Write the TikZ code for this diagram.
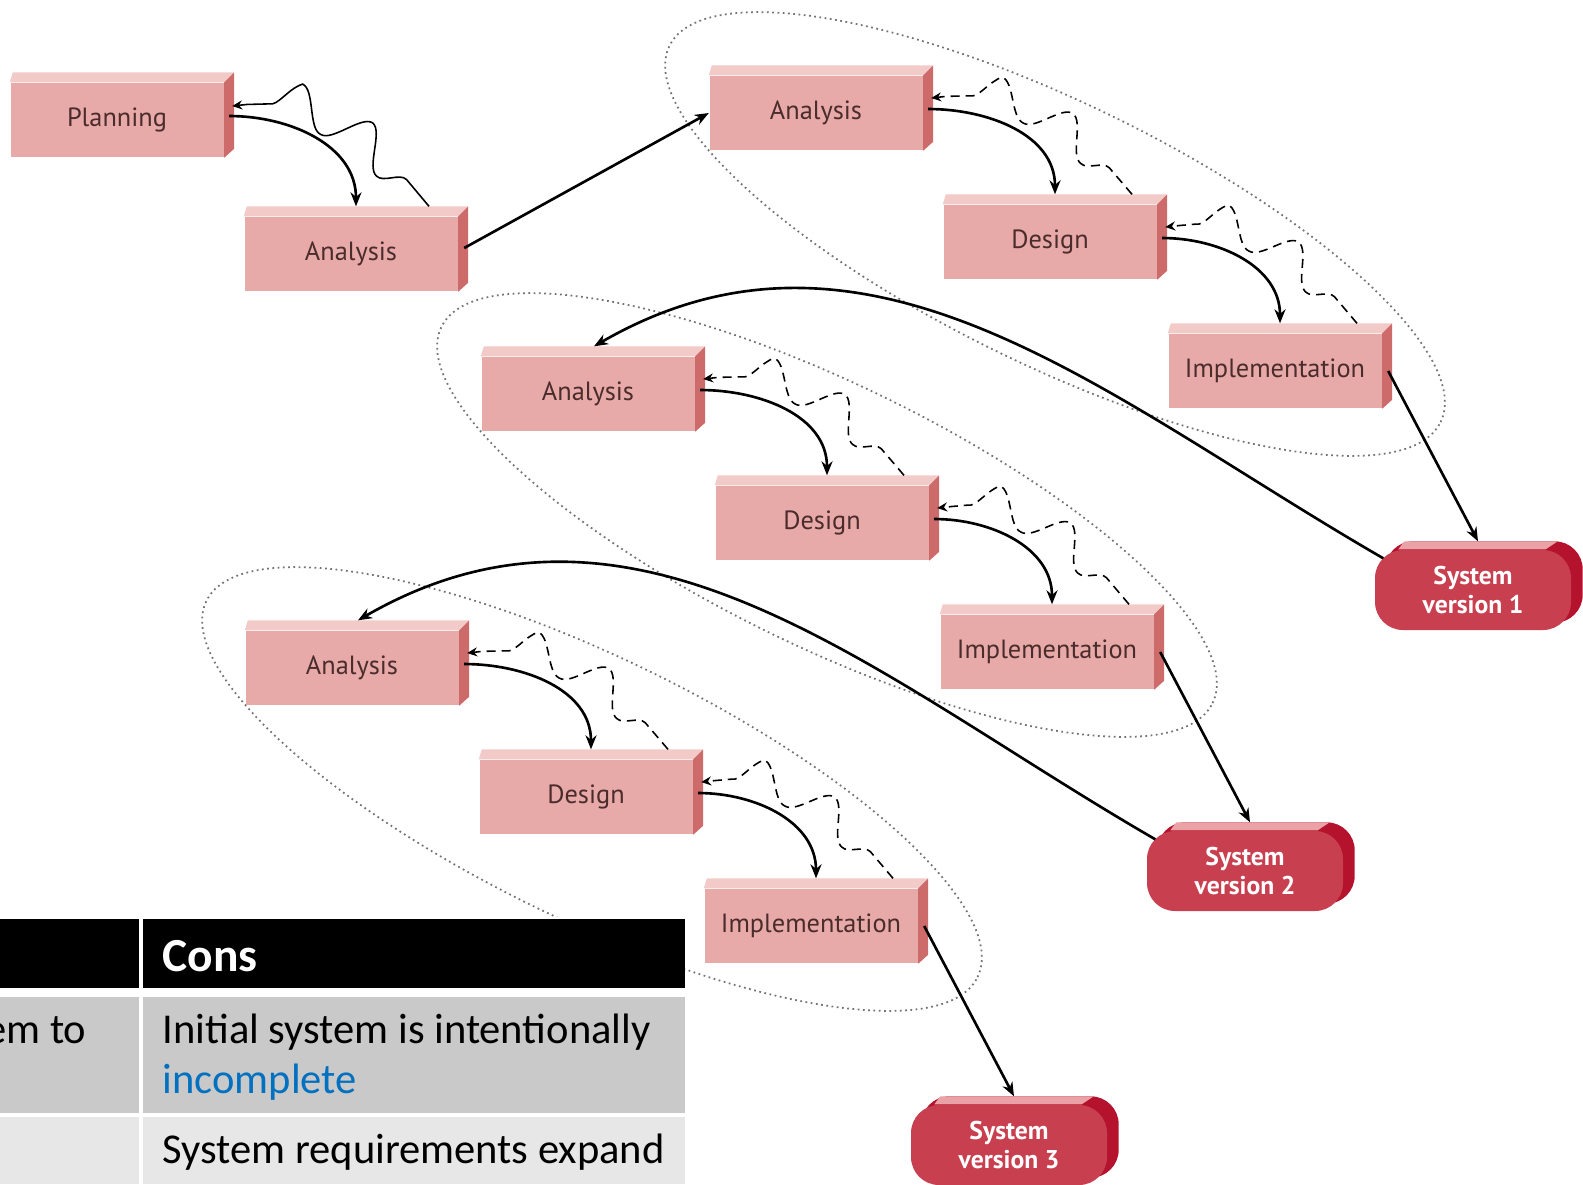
\documentclass[tikz,border=0pt]{standalone}
\usepackage{fontspec}
\usepackage{tikz}
\usetikzlibrary{arrows.meta, decorations.pathmorphing, backgrounds}
\newfontfamily\boxfont{PT Sans}
\newfontfamily\tabfont{Carlito}
\definecolor{mFront}{HTML}{E8AAA8}
\definecolor{mTop}{HTML}{F2CAC8}
\definecolor{mSide}{HTML}{CD6A6A}
\definecolor{mText}{HTML}{4A2C2C}
\definecolor{mSys}{HTML}{C8404F}
\definecolor{mSysTop}{HTML}{EAA2A6}
\definecolor{mSysSide}{HTML}{B5122E}
\definecolor{mRowA}{HTML}{C9C9C9}
\definecolor{mRowB}{HTML}{E7E7E7}
\definecolor{mBlue}{HTML}{0070C0}

\begin{document}
\begin{tikzpicture}[x=0.1mm, y=0.1mm,
    block/.style={fill=mFront, minimum width=21.3mm, minimum height=7.4mm, inner sep=0pt,
      text=mText, font=\boxfont\fontsize{7.5}{9}\selectfont},
    sysbox/.style={fill=mSys, rounded corners=2.8mm, minimum width=19.6mm, minimum height=8mm,
      inner sep=0pt, align=center, text=white, font=\boxfont\bfseries\fontsize{7.3}{8.5}\selectfont},
    flow/.style={line width=0.75pt, -{Stealth[length=1.4mm, width=1.1mm]}},
    loopback/.style={line width=0.45pt, decorate,
      decoration={snake, segment length=7.5mm, amplitude=1.7mm, pre length=3.5mm, post length=1.5mm},
      -{Stealth[length=1mm, width=0.9mm]}},
    grp/.style={densely dotted, line width=0.5pt, black!55},
    cell/.style={anchor=base west, inner sep=0pt, font=\tabfont\fontsize{12.1}{14}\selectfont}]
    \useasboundingbox (0,0) rectangle (1583,-1184);

    % boxes
    \node[block] (plan) at (117,-120) {Planning};
    \node[block] (an0) at (351,-254) {Analysis};
    \foreach \k/\x/\y in {1/816/-113, 2/588/-394, 3/352/-668} {
      \node[block] (a\k) at (\x,\y) {Analysis};
      \node[block] (d\k) at (\x+234,\y-129) {Design};
      \node[block] (i\k) at (\x+459,\y-258) {Implementation};
      \node[sysbox] (sv\k) at (\x+657,\y-477) {System\\version \k};
    }

    \begin{scope}[on background layer]
      \foreach \cx/\cy in {1055/-234, 827/-515, 592/-789}
        \draw[grp, rotate around={-26:(\cx,\cy)}] (\cx,\cy) ellipse [x radius=429, y radius=131];
      \foreach \n in {plan, an0, a1, d1, i1, a2, d2, i2, a3, d3, i3} {
        \fill[mTop] (\n.north west) -- ([shift={(3,10)}]\n.north west)
          -- ([shift={(10,10)}]\n.north east) -- (\n.north east) -- cycle;
        \fill[mSide] (\n.north east) -- ([shift={(10,10)}]\n.north east)
          -- ([shift={(10,9)}]\n.south east) -- (\n.south east) -- cycle;
      }
      \foreach \n in {sv1, sv2, sv3} {
        \fill[mSysSide, rounded corners=2.8mm] ([shift={(11,8)}]\n.south west)
          rectangle ([shift={(11,8)}]\n.north east);
        \fill[mSysTop] ([xshift=2.4mm]\n.north west) -- ([shift={(30,8)}]\n.north west)
          -- ([shift={(-14,8)}]\n.north east) -- ([xshift=-2.6mm]\n.north east) -- cycle;
      }
    \end{scope}

    % arrows
    \draw[flow] ([shift={(5,4)}]plan.east) to[out=0, in=90] ([shift={(5,10)}]an0.north);
    \draw[loopback, decoration={amplitude=1.9mm}]
      ([shift={(78,10)}]an0.north) to[out=125, in=10, looseness=0.8] ([shift={(8,14)}]plan.east);
    \draw[flow] ([shift={(6,6)}]an0.east) -- (a1.west);
    \foreach \k in {1,2,3} {
      \draw[flow] ([shift={(5,4)}]a\k.east) to[out=0, in=90] ([shift={(5,10)}]d\k.north);
      \draw[flow] ([shift={(5,4)}]d\k.east) to[out=0, in=90] ([shift={(5,10)}]i\k.north);
      \draw[loopback, dash pattern=on 0.9mm off 0.6mm]
        ([shift={(82,10)}]d\k.north) to[out=125, in=10, looseness=0.8] ([shift={(8,15)}]a\k.east);
      \draw[loopback, dash pattern=on 0.9mm off 0.6mm]
        ([shift={(82,10)}]i\k.north) to[out=125, in=10, looseness=0.8] ([shift={(8,15)}]d\k.east);
      \draw[flow] ([xshift=0.6mm]i\k.east) -- ([shift={(5,8)}]sv\k.north);
    }
    \draw[flow] ([shift={(9,-9)}]sv1.north west) to[out=150, in=30] ([shift={(6,10)}]a2.north);
    \draw[flow] ([shift={(9,-9)}]sv2.north west) to[out=150, in=30] ([shift={(6,10)}]a3.north);

    % table
    \fill[white] (0,-917) rectangle (685,-1184);
    \fill[black] (0,-919) rectangle (685,-988);
    \fill[mRowA] (0,-997) rectangle (685,-1113);
    \fill[mRowB] (0,-1117) rectangle (685,-1184);
    \fill[white] (139,-917) rectangle (143,-1184);
    \node[cell, text=white, font=\tabfont\bfseries\fontsize{13.5}{16}\selectfont] (cons) at (162,-971) {Cons};
    \node[cell, anchor=base east] (pro) at (87,-1043) {em to};
    \node[cell] (con1) at (162,-1043) {Initial system is intentionally};
    \node[cell, text=mBlue] (con1b) at (162,-1093) {incomplete};
    \node[cell] (con2) at (162,-1163) {System requirements expand};
\end{tikzpicture}
\end{document}
